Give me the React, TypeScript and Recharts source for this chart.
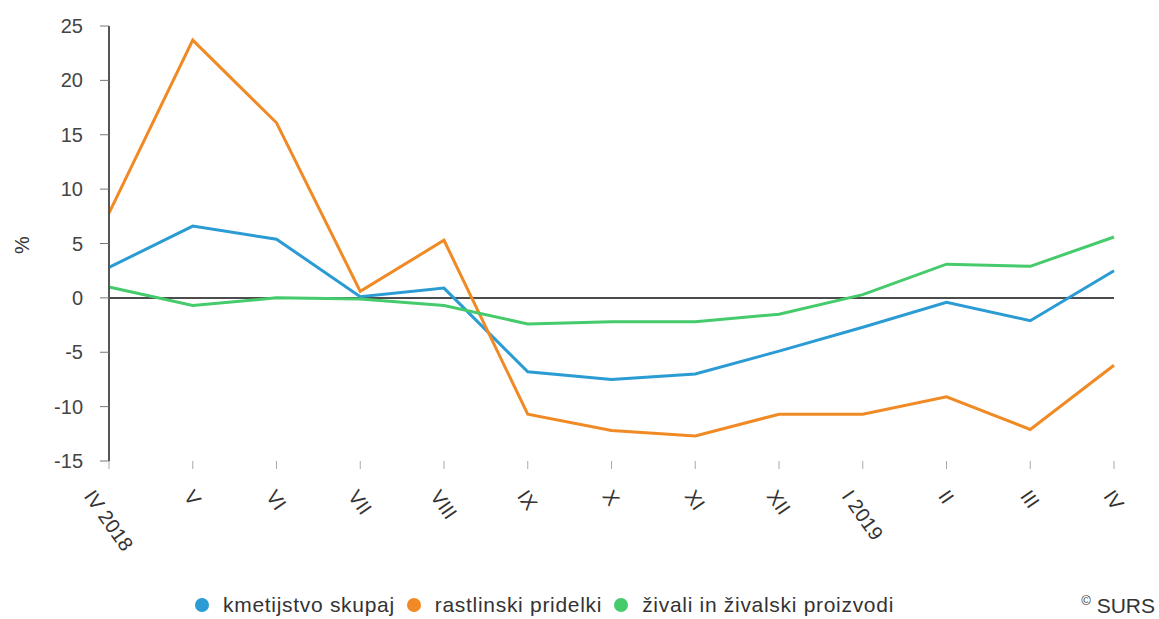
import React from 'react'
import { LineChart, Line, XAxis, YAxis, ReferenceLine } from 'recharts'

const months = ['IV 2018', 'V', 'VI', 'VII', 'VIII', 'IX', 'X', 'XI', 'XII', 'I 2019', 'II', 'III', 'IV']
const kmetijstvo = [2.8, 6.6, 5.4, 0.1, 0.9, -6.8, -7.5, -7.0, -4.9, -2.7, -0.4, -2.1, 2.5]
const rastlinski = [7.8, 23.7, 16.1, 0.6, 5.3, -10.7, -12.2, -12.7, -10.7, -10.7, -9.1, -12.1, -6.2]
const zivali = [1.0, -0.7, 0.0, -0.1, -0.7, -2.4, -2.2, -2.2, -1.5, 0.3, 3.1, 2.9, 5.6]
const yTicks = [-15, -10, -5, 0, 5, 10, 15, 20, 25]

const COLORS = {
  blue: '#2b9bd3',
  orange: '#f08a24',
  green: '#45cb6b',
}

const SERIES = [
  { key: 'kmetijstvo', name: 'kmetijstvo skupaj', color: COLORS.blue },
  { key: 'rastlinski', name: 'rastlinski pridelki', color: COLORS.orange },
  { key: 'zivali', name: 'živali in živalski proizvodi', color: COLORS.green },
]

const data = months.map((m, i) => ({
  month: m,
  kmetijstvo: kmetijstvo[i],
  rastlinski: rastlinski[i],
  zivali: zivali[i],
}))

const FONT = '"Liberation Sans", Arial, sans-serif'
const ANGLE = 55

let ctx: CanvasRenderingContext2D | null = null
function textWidth(s: string, size: number) {
  if (!ctx) ctx = document.createElement('canvas').getContext('2d')
  if (!ctx) return s.length * size * 0.5
  ctx.font = `${size}px "Liberation Sans"`
  return ctx.measureText(s).width
}

// rotated labels: centred on the tick, top edge kept on one line
function MonthTick(props: any) {
  const { x, payload } = props
  const size = 20
  const L = textWidth(payload.value, size)
  const h = size * 0.72
  const rad = (ANGLE * Math.PI) / 180
  const px = x - (L * Math.cos(rad) + h * Math.sin(rad)) / 2
  const py = 488 + h * Math.cos(rad)
  return (
    <text
      x={px}
      y={py}
      fill="#333"
      fontSize={size}
      fontFamily={FONT}
      textAnchor="start"
      transform={`rotate(${ANGLE} ${px} ${py})`}
    >
      {payload.value}
    </text>
  )
}

function PercentLabel() {
  return (
    <text x={29} y={245} fill="#333" fontSize={20} fontFamily={FONT} textAnchor="middle" transform="rotate(-90 29 245)">
      %
    </text>
  )
}

export default function App() {
  return (
    <div style={{ position: 'absolute', left: 0, top: 0, width: 1159, height: 619, background: '#fff', fontFamily: FONT }}>
      <LineChart width={1159} height={580} data={data} margin={{ top: 26, right: 45, left: 0, bottom: 0 }}>
        <XAxis
          dataKey="month"
          axisLine={false}
          tickLine={{ stroke: '#aaa' }}
          tickSize={8}
          height={119}
          interval={0}
          tick={<MonthTick />}
        />
        <YAxis
          domain={[-15, 25]}
          ticks={yTicks}
          width={109}
          axisLine={{ stroke: '#555', strokeWidth: 2 }}
          tickLine={{ stroke: '#777' }}
          tickSize={9}
          tickMargin={17}
          tick={{ fill: '#444', fontSize: 20, fontFamily: FONT }}
          label={<PercentLabel />}
        />
        <ReferenceLine y={0} stroke="#111" strokeWidth={1.5} />
        {SERIES.map((s) => (
          <Line
            key={s.key}
            type="linear"
            dataKey={s.key}
            name={s.name}
            stroke={s.color}
            strokeWidth={3}
            dot={false}
            activeDot={false}
            isAnimationActive={false}
          />
        ))}
      </LineChart>
      <div
        style={{
          position: 'absolute',
          left: 195,
          top: 593,
          display: 'flex',
          alignItems: 'center',
          gap: 12,
          fontSize: 21,
          letterSpacing: 0.7,
          color: '#333',
          whiteSpace: 'nowrap',
        }}
      >
        {SERIES.map((s) => (
          <div key={s.key} style={{ display: 'flex', alignItems: 'center' }}>
            <span
              style={{
                display: 'inline-block',
                width: 14,
                height: 14,
                borderRadius: '50%',
                background: s.color,
                marginRight: 14,
              }}
            />
            <span>{s.name}</span>
          </div>
        ))}
      </div>
      <div style={{ position: 'absolute', right: 4, top: 593, fontSize: 21, color: '#333', whiteSpace: 'nowrap' }}>
        <span style={{ fontSize: 13, verticalAlign: 'super' }}>©</span> SURS
      </div>
    </div>
  )
}
